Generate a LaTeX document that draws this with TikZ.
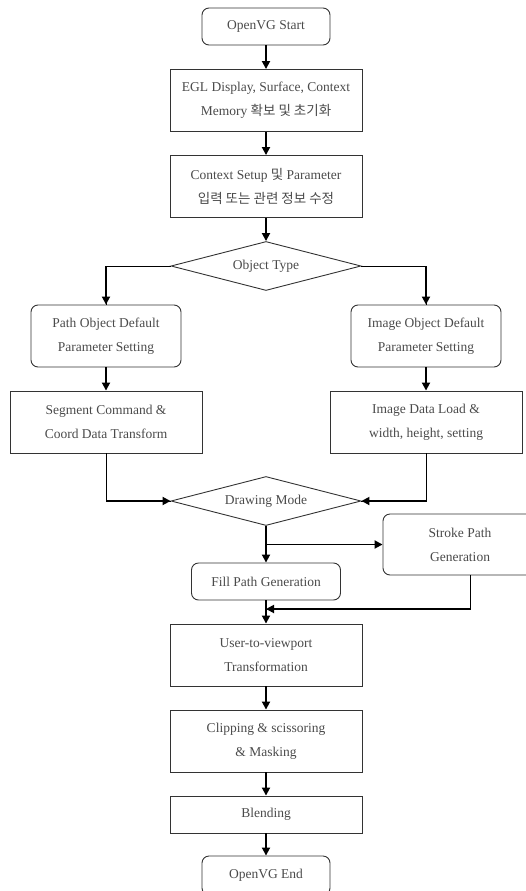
\documentclass[tikz,border=0pt]{standalone}
\usepackage{fontspec}
\setmainfont{Liberation Serif}
\newfontfamily\krfont{Noto Sans CJK KR}
\usepackage{tikz}
\usetikzlibrary{
  shapes.geometric,
  arrows.meta}
\definecolor{txtgray}{HTML}{4A4A4A}
\definecolor{boxgray}{HTML}{333333}

\begin{document}
\begin{tikzpicture}[x=1pt, y=-1pt,
  every node/.style={text=txtgray, font=\fontsize{13.5}{24}\selectfont, align=center, inner sep=0pt},
  box/.style={draw=boxgray, line width=0.9pt, minimum width=192pt, minimum height=62pt},
  rbox/.style={box, rounded corners=7pt, minimum width=150pt},
  dia/.style={diamond, draw=boxgray, line width=0.9pt, aspect=3.9, minimum width=190pt, minimum height=49pt},
  flow/.style={line width=1.8pt, -{Triangle[length=8pt,width=8pt]}},
  link/.style={line width=0.9pt}]
\useasboundingbox (0,0) rectangle (526,891);
\node[rbox, minimum width=128pt, minimum height=37pt] (start) at (266,26.5) {OpenVG Start};
\node[box] (egl) at (266,100.5) {EGL Display, Surface, Context\\Memory {\krfont 확보 및 초기화}};
\node[box] (setup) at (266,186.5) {Context Setup {\krfont 및} Parameter\\{\krfont 입력 또는 관련 정보 수정}};
\node[dia] (objtype) at (266,266) {Object Type};
\node[rbox] (pathobj) at (106,336) {Path Object Default\\Parameter Setting};
\node[rbox] (imgobj) at (426,336) {Image Object Default\\Parameter Setting};
\node[box] (segcmd) at (106,422) {Segment Command \&\\Coord Data Transform};
\node[box] (imgdata) at (426,422) {Image Data Load \&\\width, height, setting};
\node[dia] (drawmode) at (266,501) {Drawing Mode};
\node[rbox, minimum width=154pt, minimum height=61pt] (stroke) at (460,544.5) {Stroke Path\\Generation};
\node[rbox, minimum width=149pt, minimum height=37pt] (fill) at (266,581.5) {Fill Path Generation};
\node[box] (userview) at (266,655) {User-to-viewport\\Transformation};
\node[box] (clip) at (266,741) {Clipping \& scissoring\\\& Masking};
\node[box, minimum height=37pt] (blend) at (266,814.5) {Blending};
\node[rbox, minimum width=128pt, minimum height=39pt] (finish) at (266,875.5) {OpenVG End};
\coordinate (merge) at (266,609);
\foreach \a/\b in {start/egl, egl/setup, setup/objtype, pathobj/segcmd, imgobj/imgdata,
  drawmode/fill, fill/userview, userview/clip, clip/blend, blend/finish}
  \draw[flow] (\a) -- (\b);
\draw[link] (objtype.west) -| (pathobj.north);
\draw[flow] (objtype.west -| pathobj.north) -- (pathobj.north);
\draw[link] (objtype.east) -| (imgobj.north);
\draw[flow] (objtype.east -| imgobj.north) -- (imgobj.north);
\draw[link] (segcmd.south) |- (drawmode.west);
\draw[flow] (segcmd.south |- drawmode.west) -- (drawmode.west);
\draw[link] (imgdata.south) |- (drawmode.east);
\draw[flow] (imgdata.south |- drawmode.east) -- (drawmode.east);
\draw[flow] (drawmode.south |- stroke.west) -- (stroke.west);
\draw[link] ([xshift=10pt]stroke.south) |- (merge);
\draw[flow] ([xshift=10pt]stroke.south |- merge) -- (merge);
\end{tikzpicture}
\end{document}
